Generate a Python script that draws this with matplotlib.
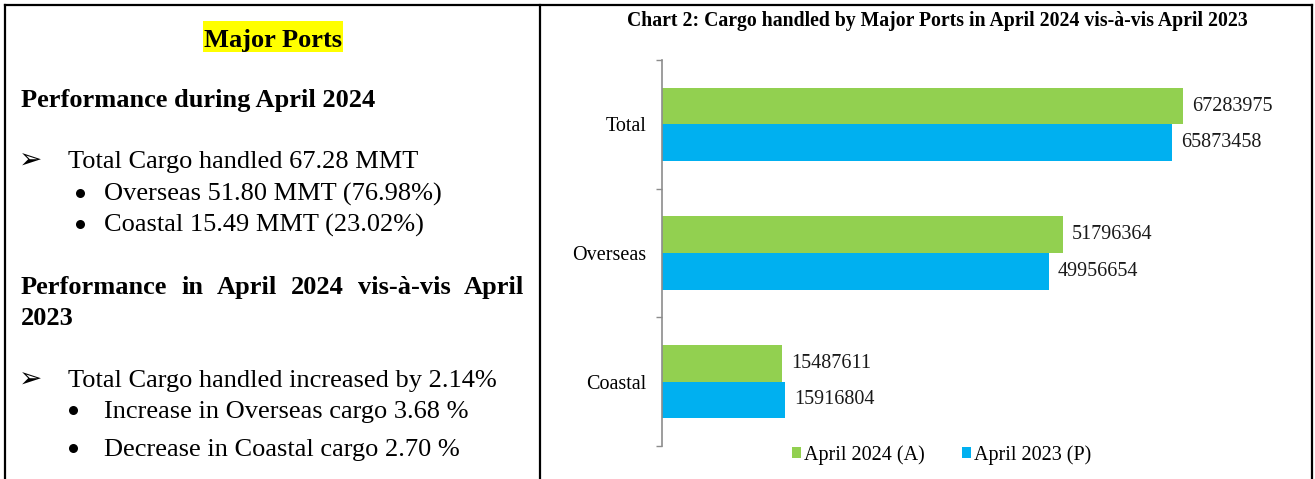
import matplotlib
matplotlib.use("Agg")
import matplotlib.pyplot as plt
from matplotlib.lines import Line2D
from matplotlib.patches import Rectangle
import numpy as np

# ---------------- data ----------------
categories = ["Total", "Overseas", "Coastal"]
april_2024 = [67283975, 51796364, 15487611]
april_2023 = [65873458, 49956654, 15916804]
series_names = ["April 2024 (A)", "April 2023 (P)"]
chart_title = "Chart 2: Cargo handled by Major Ports in April 2024 vis-à-vis April 2023"

# ---------------- figure ----------------
W, H = 1315, 479
DPI = 100
fig = plt.figure(figsize=(W / DPI, H / DPI), dpi=DPI)
fig.patch.set_facecolor("white")
SERIF = ["Liberation Serif", "DejaVu Serif"]


def fx(px):
    return px / W


def fy(py):
    return 1 - py / H


# borders
bc = "black"
blw = 1.6
fig.add_artist(Line2D([fx(5), fx(1312)], [fy(5), fy(5)], color=bc, lw=blw))
fig.add_artist(Line2D([fx(5), fx(5)], [fy(5), fy(479)], color=bc, lw=blw))
fig.add_artist(Line2D([fx(1312), fx(1312)], [fy(5), fy(479)], color=bc, lw=blw))
fig.add_artist(Line2D([fx(540), fx(540)], [fy(5), fy(479)], color=bc, lw=blw))

# ---------------- left panel text ----------------
FS = 19
fig.add_artist(Rectangle((fx(203), fy(52)), fx(343) - fx(203), fy(21) - fy(52),
                         facecolor="#FFFF00", edgecolor="none"))
fig.text(fx(273), fy(47), "Major Ports", ha="center", va="baseline",
         fontsize=FS, fontweight="bold", family=SERIF)
fig.text(fx(21), fy(107), "Performance during April 2024", ha="left", va="baseline",
         fontsize=FS, fontweight="bold", family=SERIF)

def arrow_line(y, text):
    fig.text(fx(19), fy(y + 1), "\u27a2", ha="left", va="baseline", fontsize=20,
             family=["DejaVu Sans"])
    fig.text(fx(68), fy(y), text, ha="left", va="baseline", fontsize=FS, family=SERIF)

def bullet_line(y, text, bx):
    fig.add_artist(Line2D([fx(bx)], [fy(y - 8)], marker="o", ms=6.5, color="black",
                          markeredgewidth=0, linestyle="none"))
    fig.text(fx(104), fy(y), text, ha="left", va="baseline", fontsize=FS, family=SERIF)

arrow_line(168, "Total Cargo handled 67.28 MMT")
bullet_line(201, "Overseas 51.80 MMT (76.98%)", 80)
bullet_line(232, "Coastal 15.49 MMT (23.02%)", 80)

words = [("Performance", 21, "left"), ("in", 181, "left"), ("April", 217, "left"),
         ("2024", 291, "left"), ("vis-à-vis", 358, "left"), ("April", 524, "right")]
for w, x, ha in words:
    fig.text(fx(x), fy(294), w, ha=ha, va="baseline", fontsize=FS,
             fontweight="bold", family=SERIF)
fig.text(fx(21), fy(325), "2023", ha="left", va="baseline", fontsize=FS,
         fontweight="bold", family=SERIF)

arrow_line(387, "Total Cargo handled increased by 2.14%")
bullet_line(418, "Increase in Overseas cargo 3.68 %", 73)
bullet_line(456, "Decrease in Coastal cargo 2.70 %", 73)

# ---------------- chart ----------------
CFS = 14.5
green = "#92D050"
blue = "#00B0F0"
ax_left, ax_right = 662, 662 + 80 * 7.745
ax_top, ax_bot = 60, 446
ax = fig.add_axes([fx(ax_left), fy(ax_bot), fx(ax_right) - fx(ax_left), fy(ax_top) - fy(ax_bot)])

y = np.arange(len(categories))
bh = 0.284
b1 = ax.barh(y - bh / 2, april_2024, height=bh, color=green, label=series_names[0])
b2 = ax.barh(y + bh / 2, april_2023, height=bh, color=blue, label=series_names[1])
for bars, vals in ((b1, april_2024), (b2, april_2023)):
    for rect, v in zip(bars, vals):
        ax.annotate(f"{v}", xy=(v, rect.get_y() + rect.get_height() / 2),
                    xytext=(6.5, 0), textcoords="offset points", ha="left", va="center",
                    fontsize=CFS, family=SERIF, color="#1a1a1a")

ax.set_xlim(0, 80e6)
ax.set_ylim(len(categories) - 0.5, -0.5)
ax.set_xticks([])
ax.set_yticks(y)
ax.set_yticklabels(categories, family=SERIF, fontsize=CFS)
ax.set_yticks(np.arange(-0.5, len(categories)), minor=True)
ax.tick_params(axis="y", which="major", length=0, pad=11)
ax.tick_params(axis="y", which="minor", length=4.5, width=1, color="#8C8C8C")
for s in ("top", "right", "bottom"):
    ax.spines[s].set_visible(False)
ax.spines["left"].set_color("#8C8C8C")
ax.spines["left"].set_linewidth(1.2)
ax.set_facecolor("none")

fig.text(fx(937), fy(26), chart_title, ha="center", va="baseline",
         fontsize=14.2, fontweight="bold", family=SERIF)

fig.legend(handles=[b1, b2], labels=series_names, loc="center",
           bbox_to_anchor=(fx(942), fy(455)), ncol=2, frameon=False,
           prop={"family": SERIF, "size": CFS}, handlelength=0.45, handleheight=0.45,
           handletextpad=0.15, columnspacing=1.85, borderaxespad=0, borderpad=0)

fig.savefig("out.png", dpi=DPI, facecolor="white")
